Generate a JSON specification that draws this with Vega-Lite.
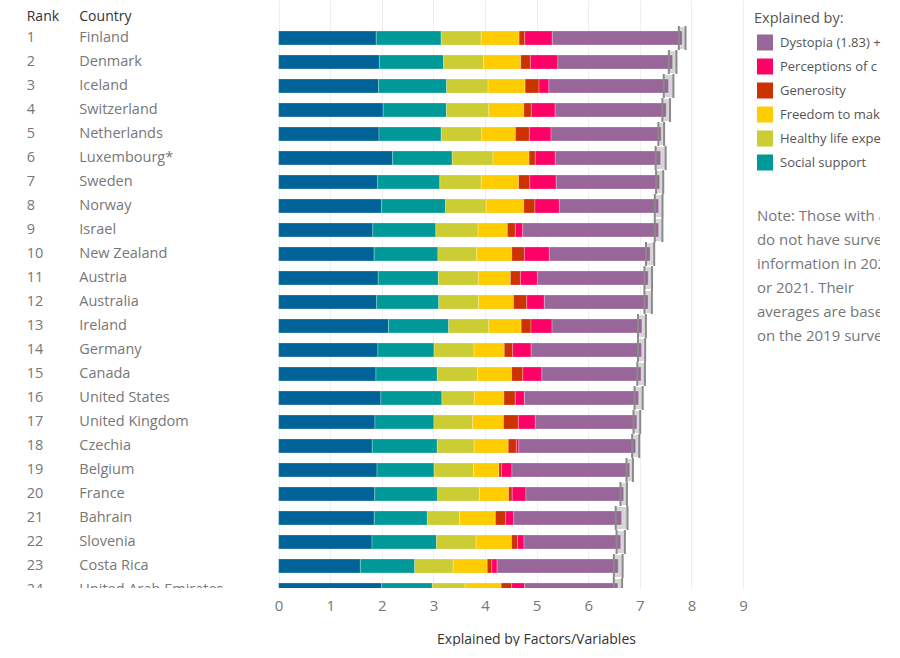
{
  "$schema": "https://vega.github.io/schema/vega-lite/v6.json",
  "width": 880,
  "height": 588,
  "padding": 0,
  "background": "white",
  "config": {"view": {"stroke": null}, "font": "Open Sans", "style": {"guide-label": {"ellipsis": " "}}},
  "datasets": {
    "happy": [
      {"rank":1,"country":"Finland","GDP":1.892,"Social":1.258,"Health":0.775,"Freedom":0.736,"Generosity":0.109,"Corruption":0.534,"Dystopia":2.518,"lo":7.756,"hi":7.886},
      {"rank":2,"country":"Denmark","GDP":1.953,"Social":1.243,"Health":0.777,"Freedom":0.719,"Generosity":0.188,"Corruption":0.532,"Dystopia":2.224,"lo":7.563,"hi":7.710},
      {"rank":3,"country":"Iceland","GDP":1.936,"Social":1.320,"Health":0.803,"Freedom":0.718,"Generosity":0.270,"Corruption":0.191,"Dystopia":2.319,"lo":7.464,"hi":7.651},
      {"rank":4,"country":"Switzerland","GDP":2.026,"Social":1.226,"Health":0.822,"Freedom":0.677,"Generosity":0.147,"Corruption":0.461,"Dystopia":2.153,"lo":7.437,"hi":7.586},
      {"rank":5,"country":"Netherlands","GDP":1.945,"Social":1.206,"Health":0.787,"Freedom":0.651,"Generosity":0.271,"Corruption":0.419,"Dystopia":2.136,"lo":7.359,"hi":7.471},
      {"rank":6,"country":"Luxembourg*","GDP":2.209,"Social":1.155,"Health":0.790,"Freedom":0.700,"Generosity":0.120,"Corruption":0.388,"Dystopia":2.042,"lo":7.307,"hi":7.501},
      {"rank":7,"country":"Sweden","GDP":1.920,"Social":1.204,"Health":0.803,"Freedom":0.724,"Generosity":0.218,"Corruption":0.512,"Dystopia":2.003,"lo":7.315,"hi":7.454},
      {"rank":8,"country":"Norway","GDP":1.997,"Social":1.239,"Health":0.786,"Freedom":0.728,"Generosity":0.217,"Corruption":0.474,"Dystopia":1.924,"lo":7.290,"hi":7.440},
      {"rank":9,"country":"Israel","GDP":1.826,"Social":1.221,"Health":0.818,"Freedom":0.568,"Generosity":0.155,"Corruption":0.143,"Dystopia":2.633,"lo":7.290,"hi":7.438},
      {"rank":10,"country":"New Zealand","GDP":1.852,"Social":1.235,"Health":0.752,"Freedom":0.680,"Generosity":0.245,"Corruption":0.483,"Dystopia":1.953,"lo":7.120,"hi":7.279},
      {"rank":11,"country":"Austria","GDP":1.931,"Social":1.165,"Health":0.774,"Freedom":0.623,"Generosity":0.193,"Corruption":0.329,"Dystopia":2.148,"lo":7.089,"hi":7.237},
      {"rank":12,"country":"Australia","GDP":1.900,"Social":1.203,"Health":0.772,"Freedom":0.676,"Generosity":0.258,"Corruption":0.341,"Dystopia":2.012,"lo":7.089,"hi":7.234},
      {"rank":13,"country":"Ireland","GDP":2.129,"Social":1.166,"Health":0.779,"Freedom":0.627,"Generosity":0.190,"Corruption":0.408,"Dystopia":1.742,"lo":6.964,"hi":7.118},
      {"rank":14,"country":"Germany","GDP":1.924,"Social":1.088,"Health":0.776,"Freedom":0.585,"Generosity":0.163,"Corruption":0.358,"Dystopia":2.140,"lo":6.964,"hi":7.104},
      {"rank":15,"country":"Canada","GDP":1.886,"Social":1.188,"Health":0.783,"Freedom":0.659,"Generosity":0.217,"Corruption":0.368,"Dystopia":1.924,"lo":6.951,"hi":7.099},
      {"rank":16,"country":"United States","GDP":1.982,"Social":1.182,"Health":0.628,"Freedom":0.574,"Generosity":0.220,"Corruption":0.177,"Dystopia":2.214,"lo":6.898,"hi":7.056},
      {"rank":17,"country":"United Kingdom","GDP":1.867,"Social":1.143,"Health":0.750,"Freedom":0.597,"Generosity":0.289,"Corruption":0.329,"Dystopia":1.968,"lo":6.878,"hi":7.008},
      {"rank":18,"country":"Czechia","GDP":1.815,"Social":1.260,"Health":0.715,"Freedom":0.660,"Generosity":0.158,"Corruption":0.048,"Dystopia":2.264,"lo":6.851,"hi":6.989},
      {"rank":19,"country":"Belgium","GDP":1.907,"Social":1.106,"Health":0.764,"Freedom":0.492,"Generosity":0.049,"Corruption":0.204,"Dystopia":2.283,"lo":6.742,"hi":6.867},
      {"rank":20,"country":"France","GDP":1.863,"Social":1.219,"Health":0.808,"Freedom":0.567,"Generosity":0.070,"Corruption":0.266,"Dystopia":1.894,"lo":6.625,"hi":6.750},
      {"rank":21,"country":"Bahrain","GDP":1.854,"Social":1.029,"Health":0.625,"Freedom":0.693,"Generosity":0.199,"Corruption":0.155,"Dystopia":2.092,"lo":6.533,"hi":6.761},
      {"rank":22,"country":"Slovenia","GDP":1.810,"Social":1.249,"Health":0.769,"Freedom":0.685,"Generosity":0.118,"Corruption":0.125,"Dystopia":1.874,"lo":6.549,"hi":6.711},
      {"rank":23,"country":"Costa Rica","GDP":1.584,"Social":1.054,"Health":0.744,"Freedom":0.661,"Generosity":0.089,"Corruption":0.102,"Dystopia":2.348,"lo":6.497,"hi":6.667},
      {"rank":24,"country":"United Arab Emirates","GDP":1.998,"Social":0.980,"Health":0.633,"Freedom":0.702,"Generosity":0.204,"Corruption":0.250,"Dystopia":1.809,"lo":6.495,"hi":6.657}
    ]
  },
  "data": {"name": "happy"},
  "layer": [
    {
      "mark": {"type": "bar", "height": 22, "color": "#d6d6d6", "clip": true},
      "encoding": {
        "x": {
          "field": "lo", "type": "quantitative",
          "scale": {"domain": [-5.4, 11.655], "nice": false, "zero": false, "padding": 0},
          "title": "Explained by Factors/Variables",
          "axis": {
            "values": [0,1,2,3,4,5,6,7,8,9],
            "grid": true, "gridColor": "#efefef", "gridWidth": 1,
            "ticks": false, "domain": false,
            "labelFontSize": 15, "labelColor": "#777777", "labelPadding": 10,
            "titleFontSize": 14, "titleColor": "#333333", "titleFontWeight": "normal",
            "titleX": 536, "titleY": 44, "titleBaseline": "top", "titleAlign": "center"
          }
        },
        "x2": {"field": "hi"},
        "y": {
          "field": "rank", "type": "quantitative",
          "scale": {"domain": [-0.583, 23.917], "reverse": true, "nice": false, "zero": false, "padding": 0},
          "axis": null
        }
      }
    },
    {
      "transform": [
        {"fold": ["GDP","Social","Health","Freedom","Generosity","Corruption","Dystopia"], "as": ["factor","value"]},
        {"stack": "value", "groupby": ["rank"], "as": ["x0","x1"]}
      ],
      "mark": {"type": "bar", "height": 14, "clip": true, "stroke": "#ffffff", "strokeWidth": 0.5, "strokeOpacity": 0.5},
      "encoding": {
        "x": {"field": "x0", "type": "quantitative", "title": "Explained by Factors/Variables"},
        "x2": {"field": "x1"},
        "y": {"field": "rank", "type": "quantitative"},
        "color": {
          "field": "factor", "type": "nominal",
          "scale": {
            "domain": ["GDP","Social","Health","Freedom","Generosity","Corruption","Dystopia"],
            "range": ["#006398","#009999","#cccc33","#ffcc00","#cc3300","#ff0066","#996699"]
          },
          "legend": {
            "orient": "none", "legendX": 754, "legendY": 12, "padding": 0,
            "title": "Explained by:", "titleFontSize": 14.5, "titleColor": "#555555", "titleFontWeight": "normal", "titlePadding": 8,
            "symbolType": "square", "symbolSize": 256, "symbolStrokeWidth": 0, "symbolOpacity": 1, "symbolOffset": 3,
            "labelFontSize": 13, "labelColor": "#555555", "labelLimit": 106, "labelOffset": 7, "rowPadding": 8,
            "values": ["Dystopia","Corruption","Generosity","Freedom","Health","Social"],
            "labelExpr": "datum.label == 'Dystopia' ? 'Dystopia (1.83) + residual' : datum.label == 'Corruption' ? 'Perceptions of corruption' : datum.label == 'Freedom' ? 'Freedom to make life choices' : datum.label == 'Health' ? 'Healthy life expectancy' : datum.label == 'Social' ? 'Social support' : datum.label == 'GDP' ? 'GDP per capita' : datum.label"
          }
        }
      }
    },
    {
      "mark": {"type": "tick", "orient": "vertical", "size": 24, "thickness": 2, "color": "#8a8a8a", "opacity": 1, "clip": true},
      "encoding": {
        "x": {"field": "lo", "type": "quantitative", "title": "Explained by Factors/Variables"},
        "y": {"field": "rank", "type": "quantitative"}
      }
    },
    {
      "mark": {"type": "tick", "orient": "vertical", "size": 24, "thickness": 2, "color": "#8a8a8a", "opacity": 1, "clip": true},
      "encoding": {
        "x": {"field": "hi", "type": "quantitative", "title": "Explained by Factors/Variables"},
        "y": {"field": "rank", "type": "quantitative"}
      }
    },
    {
      "mark": {"type": "text", "align": "left", "baseline": "middle", "fontSize": 14.5, "color": "#777777", "clip": true},
      "encoding": {
        "x": {"datum": -4.882},
        "y": {"field": "rank", "type": "quantitative"},
        "text": {"field": "rank", "type": "quantitative"}
      }
    },
    {
      "mark": {"type": "text", "align": "left", "baseline": "middle", "fontSize": 14.5, "color": "#777777", "clip": true},
      "encoding": {
        "x": {"datum": -3.863},
        "y": {"field": "rank", "type": "quantitative"},
        "text": {"field": "country", "type": "nominal"}
      }
    },
    {
      "data": {"values": [{}]},
      "mark": {"type": "text", "align": "left", "baseline": "middle", "fontSize": 14, "color": "#333333"},
      "encoding": {
        "x": {"datum": -4.882},
        "y": {"datum": 0.125},
        "text": {"value": "Rank"}
      }
    },
    {
      "data": {"values": [{}]},
      "mark": {"type": "text", "align": "left", "baseline": "middle", "fontSize": 14, "color": "#333333"},
      "encoding": {
        "x": {"datum": -3.863},
        "y": {"datum": 0.125},
        "text": {"value": "Country"}
      }
    },
    {
      "data": {"values": [{}]},
      "mark": {"type": "text", "align": "left", "baseline": "middle", "fontSize": 15, "color": "#777777", "lineHeight": 24, "clip": true},
      "encoding": {
        "x": {"datum": 9.27},
        "y": {"datum": 8.41},
        "text": {"value": ["Note: Those with an *", "do not have survey", "information in 2020", "or 2021. Their", "averages are based", "on the 2019 survey."]}
      }
    }
  ]
}
